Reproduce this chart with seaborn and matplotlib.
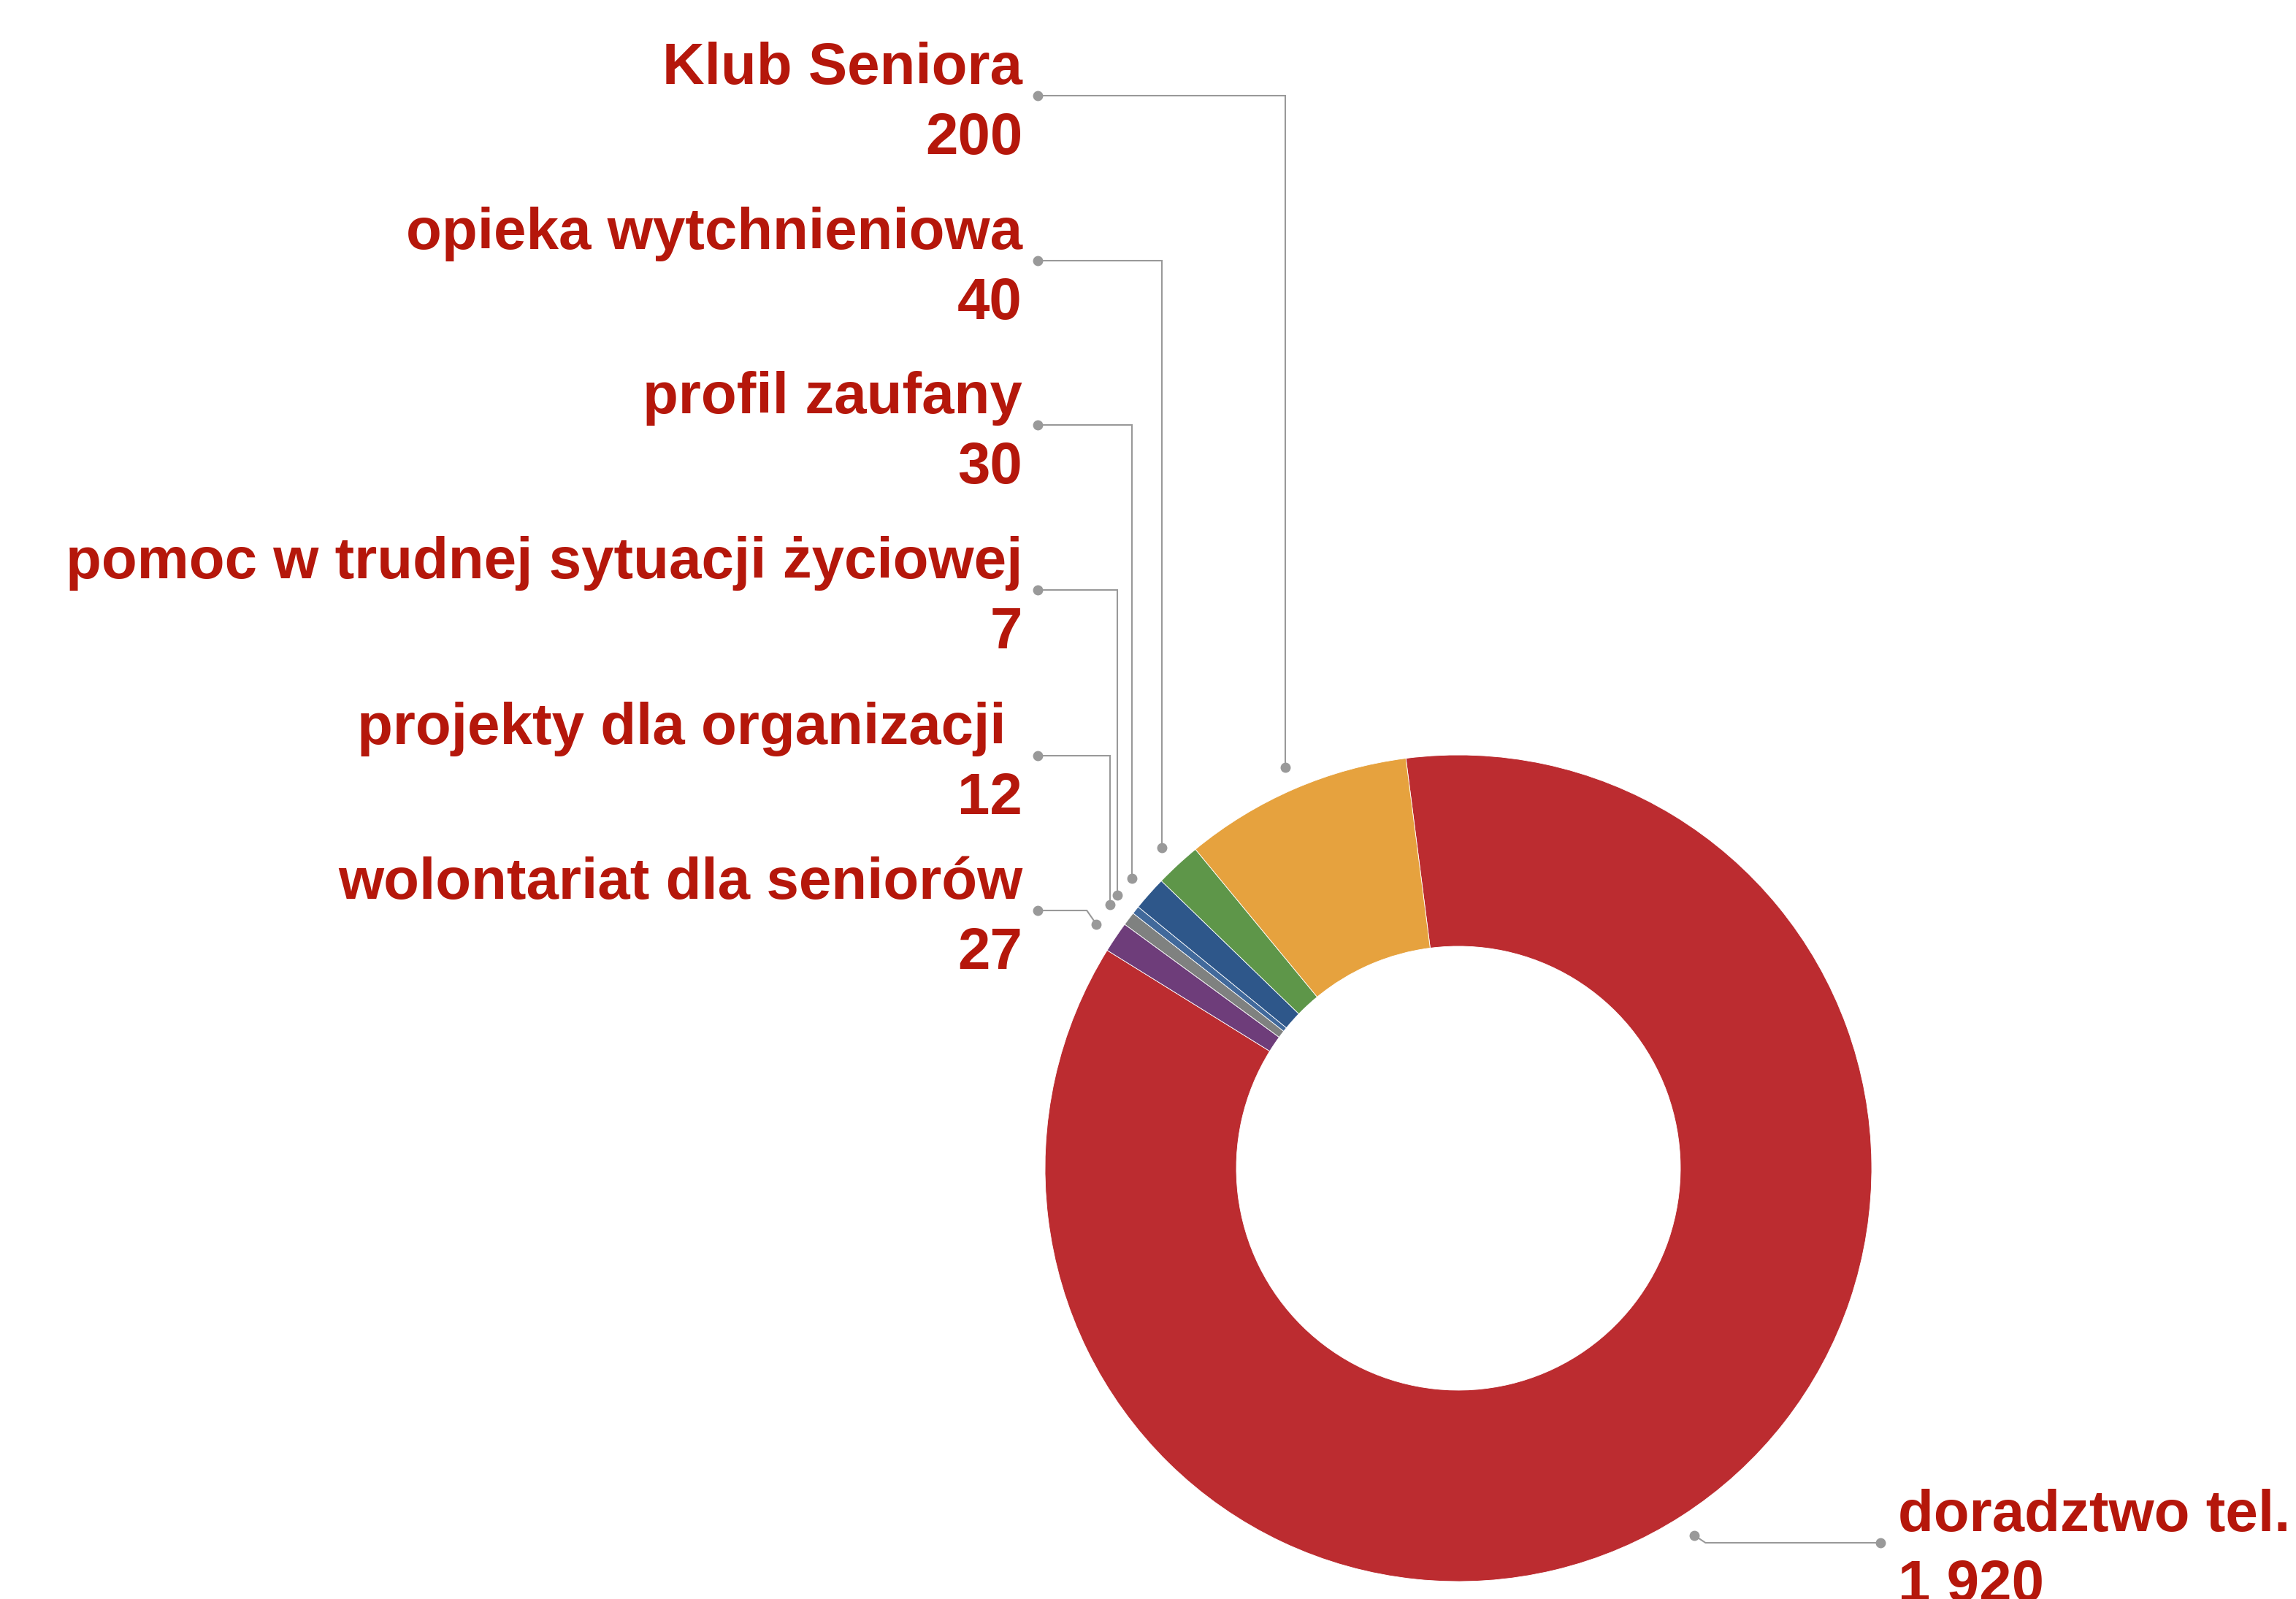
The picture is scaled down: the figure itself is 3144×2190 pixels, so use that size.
import numpy as np
import matplotlib
matplotlib.use("Agg")
import matplotlib.pyplot as plt
import seaborn as sns

# ---- data ----
categories = ["doradztwo tel.", "wolontariat dla seniorów", "projekty dla organizacji ",
              "pomoc w trudnej sytuacji życiowej", "profil zaufany",
              "opieka wytchnieniowa", "Klub Seniora"]
values = [1920, 27, 12, 7, 30, 40, 200]
value_labels = ["1 920", "27", "12", "7", "30", "40", "200"]
colors = ["#BC2C30", "#6E3D7A", "#7F8180", "#41699B", "#2E578A", "#5E9649", "#E6A23E"]

# ---- layout (pixel space, image coordinates from top) ----
W, H, DPI = 3144, 2190, 100
label_conn_y = [2113, 1247, 1035, 808, 582, 357, 131]
label_side = ["right", "left", "left", "left", "left", "left", "left"]

sns.set_theme(style="white")
plt.rcParams["font.family"] = ["Liberation Sans", "DejaVu Sans"]

fig = plt.figure(figsize=(W / DPI, H / DPI), dpi=DPI)
ax = fig.add_axes([0, 0, 1, 1])

cx, cy = 1997, H - 1600
R, Rin = 566, 304
wedges, _ = ax.pie(values, colors=colors, startangle=97.3, counterclock=False,
                   radius=R, center=(cx, cy),
                   wedgeprops=dict(width=R - Rin, edgecolor="white", linewidth=0.6))
ax.set_xlim(0, W)
ax.set_ylim(0, H)
ax.set_aspect("equal")
ax.axis("off")

text_color = "#B5170B"
line_color = "#999999"
Rd = R + 32
fs = 57.5

for i, w in enumerate(wedges):
    mid = np.deg2rad((w.theta1 + w.theta2) / 2)
    dx, dy = cx + Rd * np.cos(mid), cy + Rd * np.sin(mid)
    cyl = H - label_conn_y[i]
    if label_side[i] == "left":
        end_x = 1421
        bx = dx if abs(dy - cyl) > 40 else dx - 13
        tx, ha = 1400, "right"
    else:
        end_x = 2575
        bx = dx if abs(dy - cyl) > 40 else dx + 15
        tx, ha = 2599, "left"
    ax.plot([dx, bx, end_x], [dy, cyl, cyl], color=line_color, lw=1.5,
            solid_joinstyle="miter", zorder=3)
    ax.plot([dx, end_x], [dy, cyl], "o", ms=9, color=line_color, zorder=4)
    ax.text(tx, cyl + 16, categories[i], ha=ha, va="baseline", fontsize=fs,
            fontweight="bold", color=text_color)
    ax.text(tx, cyl - 80, value_labels[i], ha=ha, va="baseline", fontsize=fs,
            fontweight="bold", color=text_color)

fig.savefig("out.png", dpi=DPI, facecolor="white")
